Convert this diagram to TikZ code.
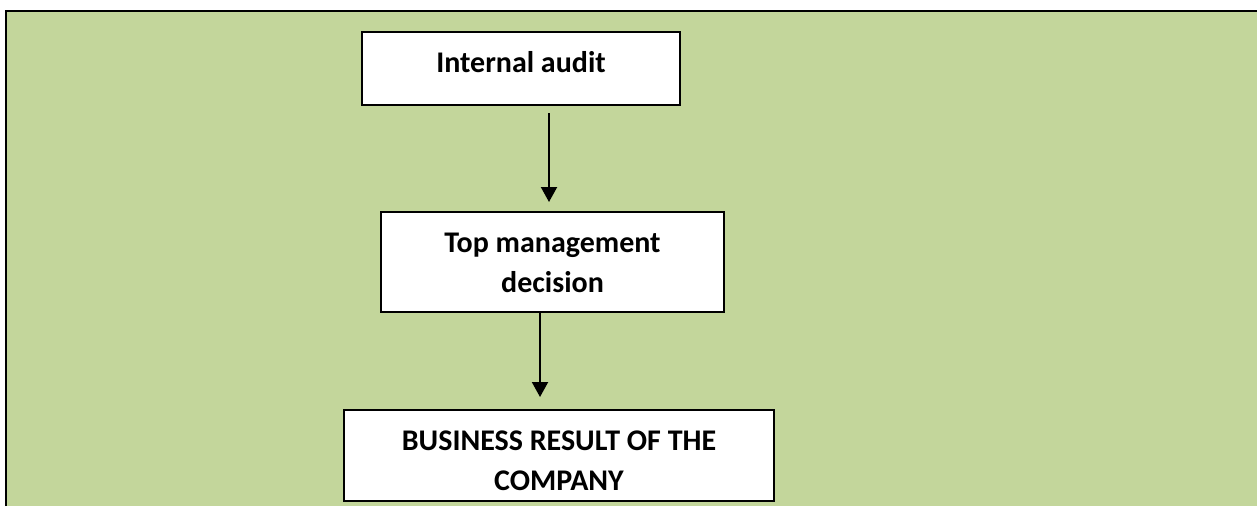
\documentclass[tikz,border=0pt]{standalone}
\usepackage{fontspec}
\setmainfont{Carlito}
\usetikzlibrary{positioning, arrows.meta}
\definecolor{bggreen}{HTML}{C3D69B}

\begin{document}
\begin{tikzpicture}[x=1pt, y=-1pt,
  stepbox/.style={draw=black, line width=2pt, fill=white, align=center,
    inner sep=0pt, font=\fontsize{30}{40}\selectfont\bfseries},
  flowarrow/.style={line width=2pt, -{Triangle[width=16pt, length=15pt]}}]
\useasboundingbox (0,0) rectangle (1257,506);
\fill [bggreen] (6,11) rectangle (1257,506);
\draw [line width=2pt] (6,506) -- (6,11) -- (1257,11);
\node [stepbox, minimum width=318pt, minimum height=73pt, text depth=13pt] (audit) at (521,68.5) {Internal audit};
\node [stepbox, minimum width=343pt, minimum height=100pt, text height=60pt, text depth=0pt] (decision) at (552.5,262) {Top management\\decision};
\node [stepbox, minimum width=430pt, minimum height=91pt, text height=69pt, text depth=0pt] (result) at (559,455.5) {BUSINESS RESULT OF THE\\COMPANY};
\coordinate (a1) at (549,113);
\coordinate (a2) at (540,312);
\draw [flowarrow, shorten >=9pt] (a1) -- (a1 |- decision.north);
\draw [flowarrow, shorten >=12pt] (a2) -- (a2 |- result.north);
\end{tikzpicture}
\end{document}
